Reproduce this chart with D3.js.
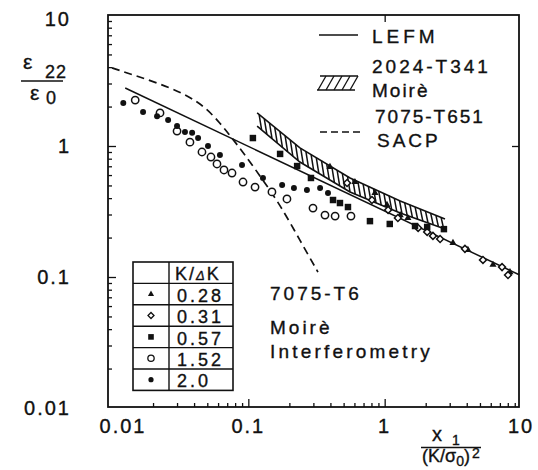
<!DOCTYPE html>
<html>
<head>
<meta charset="utf-8">
<script src="https://cdn.jsdelivr.net/npm/d3@7"></script>
<style>
  body { margin: 0; background: #fff; }
  svg text { font-family: "Liberation Sans", Arial, sans-serif; fill: #111; stroke: #111; stroke-width: 0.35px; }
</style>
</head>
<body>
<div id="wrapper"></div>
<script>
// Values (log-log)
const xTicks = [0.01, 0.1, 1, 10];
const xTickLabels = ["0.01", "0.1", "1", "10"];
const yTicks = [0.01, 0.1, 1, 10];
const yTickLabels = ["0.01", "0.1", "1", "10"];

// LEFM line
const lefm = [[0.0125, 2.77], [9.7, 0.104]];
// 7075-T651 SACP (dashed)
const sacp = [[0.01, 3.95], [0.0125, 3.65], [0.0207, 3.08], [0.0343, 2.50], [0.0481, 1.99],
  [0.0619, 1.50], [0.0759, 1.15], [0.0946, 0.853], [0.128, 0.55], [0.171, 0.355],
  [0.239, 0.191], [0.324, 0.109]];
// 2024-T341 Moire band
const moireUpper = [[0.116, 1.79], [0.239, 0.966], [0.557, 0.570], [1.30, 0.380], [2.77, 0.277]];
const moireLower = [[0.116, 1.42], [0.239, 0.755], [0.557, 0.446], [1.30, 0.308], [2.77, 0.232]];

// 7075-T6 Moire interferometry, by K/dK
const ratios = ["0.28", "0.31", "0.57", "1.52", "2.0"];
const pts028 = [[0.397, 0.692], [0.605, 0.531], [0.849, 0.438], [1.04, 0.355], [1.30, 0.297],
  [1.48, 0.282], [3.17, 0.182], [4.08, 0.161], [6.23, 0.124], [8.30, 0.109]];
const pts031 = [[0.530, 0.522], [0.807, 0.387], [1.06, 0.325], [1.25, 0.282], [1.76, 0.237],
  [2.05, 0.221], [2.26, 0.206], [2.55, 0.195], [3.88, 0.164], [5.26, 0.135], [7.26, 0.119], [8.03, 0.1035]];
const pts057 = [[0.108, 1.15], [0.171, 0.87], [0.228, 0.703], [0.288, 0.570], [0.418, 0.387],
  [0.470, 0.367], [0.538, 0.342], [0.780, 0.267], [1.09, 0.254], [1.67, 0.245], [2.05, 0.241], [2.72, 0.232]];
const pts152 = [[0.0148, 2.24], [0.0225, 1.79], [0.0300, 1.30], [0.0373, 1.07], [0.0457, 0.90],
  [0.0532, 0.824], [0.0589, 0.729], [0.0663, 0.656], [0.0759, 0.622], [0.0914, 0.531], [0.112, 0.486],
  [0.149, 0.446], [0.192, 0.394], [0.298, 0.336], [0.365, 0.297], [0.433, 0.292], [0.566, 0.292]];
const pts20 = [[0.0121, 2.13], [0.0169, 1.82], [0.0214, 1.69], [0.0258, 1.58], [0.0300, 1.42],
  [0.0343, 1.28], [0.0387, 1.26], [0.0428, 1.15], [0.0506, 1.00], [0.0619, 0.853], [0.0899, 0.716],
  [0.128, 0.570], [0.177, 0.504], [0.216, 0.478], [0.269, 0.461], [0.336, 0.478], [0.384, 0.438]];

const drawChart = () => {
  const dimensions = {
    width: 538,
    height: 470,
    frame: { left: 108, right: 519, top: 15, bottom: 407 },
  };
  const ink = "#111";

  const wrapper = d3.select("#wrapper")
    .append("svg")
    .attr("width", dimensions.width)
    .attr("height", dimensions.height);

  // Scales
  const xScale = d3.scaleLog().domain([0.01, 10]).range([112, 521]);
  const yScale = d3.scaleLog().domain([0.01, 10]).range([408, 15]);

  const minors = [];
  [0.01, 0.1, 1].forEach(d => { for (let k = 2; k <= 9; k++) minors.push(d * k); });

  // Frame
  const f = dimensions.frame;
  wrapper.append("rect")
    .attr("x", f.left).attr("y", f.top)
    .attr("width", f.right - f.left).attr("height", f.bottom - f.top)
    .attr("fill", "none").attr("stroke", ink).attr("stroke-width", 1.8);

  // Axes (ticks inward)
  const axisStyle = g => {
    g.select(".domain").remove();
    g.selectAll("line").attr("stroke", ink).attr("stroke-width", 1.3);
    g.selectAll("text").remove();
  };
  wrapper.append("g").attr("transform", `translate(${f.left},0)`)
    .call(d3.axisLeft(yScale).tickValues(minors).tickSize(-4)).call(axisStyle);
  wrapper.append("g").attr("transform", `translate(${f.left},0)`)
    .call(d3.axisLeft(yScale).tickValues([0.1, 1]).tickSize(-8)).call(axisStyle);
  wrapper.append("g").attr("transform", `translate(${f.right},0)`)
    .call(d3.axisRight(yScale).tickValues([1]).tickSize(-7)).call(axisStyle);
  wrapper.append("g").attr("transform", `translate(0,${f.bottom})`)
    .call(d3.axisBottom(xScale).tickValues(minors).tickSize(-4)).call(axisStyle);
  wrapper.append("g").attr("transform", `translate(0,${f.bottom})`)
    .call(d3.axisBottom(xScale).tickValues([0.1, 1]).tickSize(-8)).call(axisStyle);
  wrapper.append("g").attr("transform", `translate(0,${f.top})`)
    .call(d3.axisTop(xScale).tickValues([1]).tickSize(-7)).call(axisStyle);

  // Tick labels
  const labelFont = 20;
  wrapper.append("g").selectAll("text").data(yTicks).join("text")
    .attr("x", 71)
    .attr("y", d => yScale(d) + (d === 10 ? 11 : 7))
    .attr("text-anchor", "end")
    .style("font-size", `${labelFont}px`)
    .style("letter-spacing", "2px")
    .text((d, i) => yTickLabels[i]);
  wrapper.append("g").selectAll("text").data(xTicks).join("text")
    .attr("x", d => xScale(d) + (d === 0.01 ? 11 : 0))
    .attr("y", 433)
    .attr("text-anchor", "middle")
    .style("font-size", `${labelFont}px`)
    .style("letter-spacing", "2px")
    .text((d, i) => xTickLabels[i]);

  // Axis titles
  const yTitle = wrapper.append("g").style("font-size", "21px");
  const num = yTitle.append("text").attr("x", 23).attr("y", 69);
  num.append("tspan").text("ε");
  num.append("tspan").attr("x", 45).attr("y", 78).style("font-size", "18px").style("letter-spacing", "1px").text("22");
  yTitle.append("line").attr("x1", 21).attr("x2", 63).attr("y1", 81).attr("y2", 81)
    .attr("stroke", ink).attr("stroke-width", 1.6);
  const den = yTitle.append("text").attr("x", 30).attr("y", 100);
  den.append("tspan").text("ε");
  den.append("tspan").attr("x", 46).attr("y", 104).style("font-size", "18px").text("0");

  const xTitle = wrapper.append("g").style("font-size", "18px");
  const xn = xTitle.append("text").attr("x", 432).attr("y", 441);
  xn.append("tspan").style("font-size", "20px").text("x");
  xn.append("tspan").attr("x", 452).attr("y", 445).style("font-size", "14px").text("1");
  xTitle.append("line").attr("x1", 421).attr("x2", 481).attr("y1", 447.5).attr("y2", 447.5)
    .attr("stroke", ink).attr("stroke-width", 1.4);
  const xd = xTitle.append("text").attr("x", 422).attr("y", 462);
  xd.append("tspan").text("(K/σ");
  xd.append("tspan").attr("dy", 4).style("font-size", "14px").text("0");
  xd.append("tspan").attr("dy", -4).text(")");
  xd.append("tspan").attr("dx", 2).attr("dy", -4).style("font-size", "14px").text("2");

  // Lines
  const line = d3.line().x(d => xScale(d[0])).y(d => yScale(d[1]));
  wrapper.append("path").datum(lefm).attr("d", line)
    .attr("fill", "none").attr("stroke", ink).attr("stroke-width", 1.5);
  const smooth = d3.line().x(d => xScale(d[0])).y(d => yScale(d[1])).curve(d3.curveBasis);
  wrapper.append("path").datum(sacp).attr("d", smooth)
    .attr("fill", "none").attr("stroke", ink).attr("stroke-width", 1.7)
    .attr("stroke-dasharray", "8,5");

  // Moire hatched band
  const band = wrapper.append("g").attr("stroke", ink).attr("fill", "none");
  band.append("path").datum(moireUpper).attr("d", line).attr("stroke-width", 1.6);
  band.append("path").datum(moireLower).attr("d", line).attr("stroke-width", 1.6);
  const edgeAt = (pts, px) => {
    const p = pts.map(d => [xScale(d[0]), yScale(d[1])]);
    for (let i = 0; i < p.length - 1; i++) {
      if (px >= p[i][0] && px <= p[i + 1][0]) {
        const t = (px - p[i][0]) / (p[i + 1][0] - p[i][0]);
        return p[i][1] + t * (p[i + 1][1] - p[i][1]);
      }
    }
    return null;
  };
  const hx0 = xScale(moireUpper[0][0]) + 2;
  const hx1 = xScale(moireUpper[moireUpper.length - 1][0]) - 3;
  const hatchXs = d3.range(hx0, hx1, 5.2);
  band.selectAll("line").data(hatchXs).join("line")
    .attr("x1", d => d).attr("y1", d => edgeAt(moireUpper, d))
    .attr("x2", d => d + 2.5).attr("y2", d => edgeAt(moireLower, d + 2.5))
    .attr("stroke-width", 1.5);

  // Scatter series
  const seriesStyles = [
    { data: pts028, shape: d3.symbolTriangle, size: 22, fill: ink, stroke: "none", rot: 0 },
    { data: pts031, shape: d3.symbolSquare, size: 24, fill: "#fff", stroke: ink, rot: 45 },
    { data: pts057, shape: d3.symbolSquare, size: 42, fill: ink, stroke: "none", rot: 0 },
    { data: pts152, shape: d3.symbolCircle, size: 42, fill: "#fff", stroke: ink, rot: 0 },
    { data: pts20, shape: d3.symbolCircle, size: 28, fill: ink, stroke: "none", rot: 0 },
  ];
  seriesStyles.forEach(s => {
    wrapper.append("g").selectAll("path").data(s.data).join("path")
      .attr("d", d3.symbol().type(s.shape).size(s.size))
      .attr("transform", d => `translate(${xScale(d[0])},${yScale(d[1])}) rotate(${s.rot})`)
      .attr("fill", s.fill).attr("stroke", s.stroke).attr("stroke-width", 1.5);
  });

  // Legend (top right)
  const legend = wrapper.append("g").style("font-size", "19px").style("letter-spacing", "3px");
  legend.append("line").attr("x1", 319).attr("x2", 358).attr("y1", 35).attr("y2", 35)
    .attr("stroke", ink).attr("stroke-width", 1.5);
  legend.append("text").attr("x", 372).attr("y", 43).style("letter-spacing", "4px").text("LEFM");
  legend.append("line").attr("x1", 320).attr("x2", 358).attr("y1", 76).attr("y2", 76)
    .attr("stroke", ink).attr("stroke-width", 1.4);
  legend.append("line").attr("x1", 317).attr("x2", 355).attr("y1", 90).attr("y2", 90)
    .attr("stroke", ink).attr("stroke-width", 1.4);
  legend.selectAll("line.h").data(d3.range(0, 5)).join("line").attr("class", "h")
    .attr("x1", i => 318 + i * 8).attr("x2", i => 326 + i * 8).attr("y1", 90).attr("y2", 76)
    .attr("stroke", ink).attr("stroke-width", 1.3);
  legend.append("text").attr("x", 372).attr("y", 73).text("2024-T341");
  legend.append("text").attr("x", 372).attr("y", 97).style("letter-spacing", "2px").text("Moirè");
  legend.append("line").attr("x1", 320).attr("x2", 360).attr("y1", 132).attr("y2", 132)
    .attr("stroke", ink).attr("stroke-width", 1.7).attr("stroke-dasharray", "7,4");
  legend.append("text").attr("x", 375).attr("y", 123).style("letter-spacing", "2px").text("7075-T651");
  legend.append("text").attr("x", 377).attr("y", 147).text("SACP");

  // Annotation
  const note = wrapper.append("g").style("font-size", "19px").style("letter-spacing", "3px");
  note.append("text").attr("x", 270).attr("y", 300).text("7075-T6");
  note.append("text").attr("x", 270).attr("y", 334).text("Moirè");
  note.append("text").attr("x", 270).attr("y", 358).style("letter-spacing", "3.2px").text("Interferometry");

  // K/dK table
  const table = { x0: 133, x1: 233, xc: 169, y0: 262, rowH: 21.4 };
  const tg = wrapper.append("g");
  const nRows = ratios.length + 1;
  tg.append("rect").attr("x", table.x0).attr("y", table.y0)
    .attr("width", table.x1 - table.x0).attr("height", table.rowH * nRows)
    .attr("fill", "#fff").attr("stroke", ink).attr("stroke-width", 1.6);
  tg.append("line").attr("x1", table.xc).attr("x2", table.xc)
    .attr("y1", table.y0).attr("y2", table.y0 + table.rowH * nRows)
    .attr("stroke", ink).attr("stroke-width", 1.4);
  tg.selectAll("line.r").data(d3.range(1, nRows)).join("line").attr("class", "r")
    .attr("x1", table.x0).attr("x2", table.x1)
    .attr("y1", i => table.y0 + i * table.rowH).attr("y2", i => table.y0 + i * table.rowH)
    .attr("stroke", ink).attr("stroke-width", 1.4);
  const head = tg.append("text").attr("x", 175).attr("y", table.y0 + table.rowH - 3)
    .style("font-size", "18px").style("letter-spacing", "2px");
  head.append("tspan").text("K/");
  head.append("tspan").style("font-size", "13px").style("font-style", "italic").text("Δ");
  head.append("tspan").text("K");
  tg.selectAll("text.v").data(ratios).join("text").attr("class", "v")
    .attr("x", 177)
    .attr("y", (d, i) => table.y0 + (i + 2) * table.rowH - 3)
    .style("font-size", "18px").style("letter-spacing", "3px")
    .text(d => d);
  seriesStyles.forEach((s, i) => {
    tg.append("path")
      .attr("d", d3.symbol().type(s.shape).size(s.size * 0.75))
      .attr("transform", `translate(151,${table.y0 + (i + 1.5) * table.rowH}) rotate(${s.rot})`)
      .attr("fill", s.fill).attr("stroke", s.stroke).attr("stroke-width", 1.3);
  });
};
drawChart();
</script>
</body>
</html>
